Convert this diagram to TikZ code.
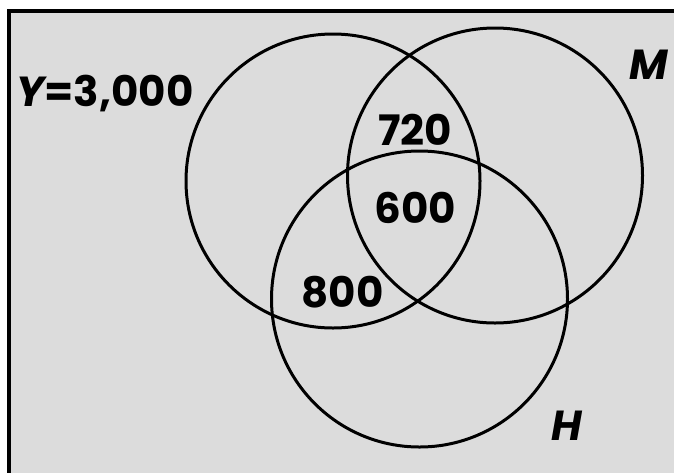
\documentclass[tikz,border=0pt]{standalone}
\usepackage{fontspec}
\setmainfont{Poppins}
\tikzset{
  setc/.style={draw=black, line width=3pt},
  lbl/.style={font=\fontsize{42}{46}\selectfont\bfseries, inner sep=0pt, anchor=base}
}
\begin{document}
\begin{tikzpicture}[x=1pt,y=-1pt]
\useasboundingbox (0,0) rectangle (674,472);
\clip (0,0) rectangle (674,472);
\fill[white] (0,0) rectangle (674,472);
\filldraw[fill={rgb,255:red,220;green,220;blue,220}, draw=black, line width=4pt] (9,11) rectangle (700,500);
\draw[setc] (333,181) circle (147);
\draw[setc] (495,175.5) circle (147.5);
\draw[setc] (419.5,299) circle (148);
\node[lbl] (y) at (105,106) {\itshape Y\upshape=3,000};
\node[lbl] (m) at (648.5,79) {\itshape M};
\node[lbl] (h) at (566.5,440) {\itshape H};
\node[lbl] (a) at (415,145) {720};
\node[lbl] (b) at (415.5,223) {600};
\node[lbl] (c) at (342.5,307) {800};
\end{tikzpicture}
\end{document}
